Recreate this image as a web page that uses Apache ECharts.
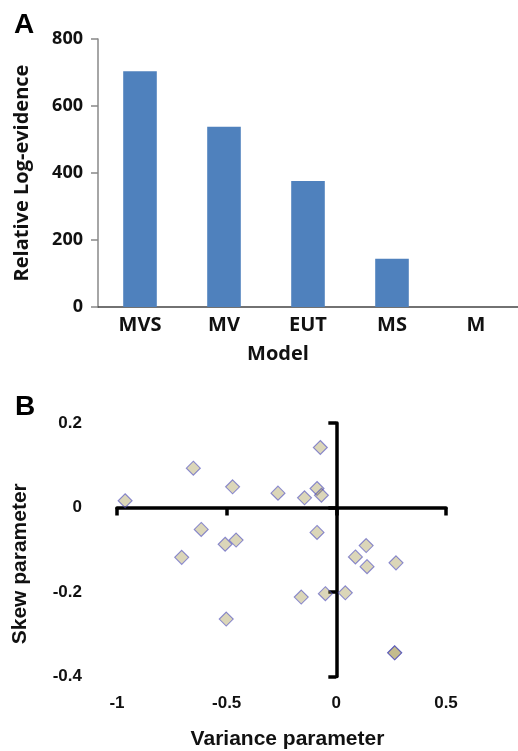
<!DOCTYPE html>
<html lang="en">
<head>
    <meta charset="UTF-8">
    <title>Model evidence and parameters</title>
    <style>
        html, body { margin: 0; padding: 0; background: #fff; }
    </style>
</head>
<body>
<div id="main" style="width:518px;height:751px;"></div>

<script src="https://cdn.jsdelivr.net/npm/echarts@6/dist/echarts.min.js"></script>
<script>
    // panel A
    var models = ['MVS', 'MV', 'EUT', 'MS', 'M'];
    var logEvidence = [704, 538, 376, 144, 0];
    var evidenceTicks = [0, 200, 400, 600, 800];

    // panel B (one point is repeated, it shows darker in the figure)
    var varianceParam = [-0.963, -0.652, -0.473, -0.266, -0.145, -0.088, -0.068, -0.073,
        -0.616, -0.507, -0.457, -0.705, -0.088, 0.087, 0.136, 0.140, 0.272,
        -0.160, -0.050, 0.041, -0.502, 0.266, 0.266];
    var skewParam = [0.016, 0.093, 0.049, 0.034, 0.023, 0.045, 0.029, 0.142,
        -0.052, -0.087, -0.077, -0.118, -0.059, -0.117, -0.090, -0.140, -0.131,
        -0.212, -0.204, -0.202, -0.264, -0.344, -0.344];
    var varianceTicks = [-1, -0.5, 0, 0.5];
    var skewTicks = [-0.4, -0.2, 0, 0.2];

    var points = varianceParam.map(function (v, i) {
        return [v, skewParam[i]];
    });

    var fontA = '"Open Sans", sans-serif';
    var fontB = '"Liberation Sans", Arial, sans-serif';

    var myChart = echarts.init(document.getElementById('main'));
    myChart.setOption({
        animation: false,
        backgroundColor: '#fff',
        title: [
            {text: 'A', left: 9, top: 6, textStyle: {fontFamily: fontB, fontWeight: 'bold', fontSize: 28, color: '#000'}},
            {text: 'B', left: 10, top: 388, textStyle: {fontFamily: fontB, fontWeight: 'bold', fontSize: 28, color: '#000'}}
        ],
        grid: [
            {left: 98, top: 39, width: 425, height: 268},
            {left: 117, top: 423, width: 329, height: 253.5}
        ],
        xAxis: [
            {
                gridIndex: 0,
                type: 'category',
                data: models,
                name: 'Model',
                nameLocation: 'middle',
                nameGap: 37,
                nameTextStyle: {fontFamily: fontA, fontWeight: 'bold', fontSize: 20, color: '#111', padding: [0, 60, 0, 0]},
                axisLine: {lineStyle: {color: '#444', width: 1.5}},
                axisTick: {show: false},
                axisLabel: {margin: 8, fontFamily: fontA, fontWeight: 'bold', fontSize: 20, color: '#111'}
            },
            {
                // labels along the bottom of panel B
                gridIndex: 1,
                type: 'value',
                position: 'bottom',
                min: varianceTicks[0],
                max: varianceTicks[varianceTicks.length - 1],
                interval: 0.5,
                name: 'Variance parameter',
                nameLocation: 'middle',
                nameGap: 52,
                nameTextStyle: {fontFamily: fontB, fontWeight: 'bold', fontSize: 21, color: '#111', padding: [0, 0, 0, 12]},
                axisLine: {show: false, onZero: false},
                axisTick: {show: false},
                splitLine: {show: false},
                axisLabel: {margin: 18, fontFamily: fontB, fontWeight: 'bold', fontSize: 17, color: '#111'}
            },
            {
                // the crossing line at skew = 0
                gridIndex: 1,
                type: 'value',
                position: 'top',
                min: varianceTicks[0],
                max: varianceTicks[varianceTicks.length - 1],
                interval: 0.5,
                axisLine: {onZero: true, lineStyle: {color: '#000', width: 3.5}},
                axisTick: {inside: true, length: 8, lineStyle: {color: '#000', width: 3.5}},
                axisLabel: {show: false},
                splitLine: {show: false}
            }
        ],
        yAxis: [
            {
                gridIndex: 0,
                type: 'value',
                min: evidenceTicks[0],
                max: evidenceTicks[evidenceTicks.length - 1],
                interval: 200,
                name: 'Relative Log-evidence',
                nameLocation: 'middle',
                nameGap: 66,
                nameTextStyle: {fontFamily: fontA, fontWeight: 'bold', fontSize: 20, color: '#111'},
                axisLine: {show: true, lineStyle: {color: '#888', width: 1.5}},
                axisTick: {show: true, length: 7, lineStyle: {color: '#888', width: 1.5}},
                splitLine: {show: false},
                axisLabel: {margin: 15, fontFamily: fontA, fontWeight: 'bold', fontSize: 18, color: '#111'}
            },
            {
                // labels along the left of panel B
                gridIndex: 1,
                type: 'value',
                position: 'left',
                min: skewTicks[0],
                max: skewTicks[skewTicks.length - 1],
                interval: 0.2,
                name: 'Skew parameter',
                nameLocation: 'middle',
                nameGap: 86,
                nameTextStyle: {fontFamily: fontB, fontWeight: 'bold', fontSize: 21, color: '#111', padding: [0, 28, 0, 0]},
                axisLine: {show: false, onZero: false},
                axisTick: {show: false},
                splitLine: {show: false},
                axisLabel: {margin: 35, fontFamily: fontB, fontWeight: 'bold', fontSize: 17, color: '#111'}
            },
            {
                // the crossing line at variance = 0
                gridIndex: 1,
                type: 'value',
                position: 'right',
                min: skewTicks[0],
                max: skewTicks[skewTicks.length - 1],
                interval: 0.2,
                axisLine: {onZero: true, lineStyle: {color: '#000', width: 3.5}},
                axisTick: {inside: true, length: 8, lineStyle: {color: '#000', width: 3.5}},
                axisLabel: {show: false},
                splitLine: {show: false}
            }
        ],
        series: [
            {
                name: 'Log-evidence',
                type: 'bar',
                xAxisIndex: 0,
                yAxisIndex: 0,
                barWidth: '40%',
                itemStyle: {color: '#4f81bd'},
                data: logEvidence
            },
            {
                name: 'Parameters',
                type: 'scatter',
                xAxisIndex: 1,
                yAxisIndex: 1,
                symbol: 'diamond',
                symbolSize: 14,
                itemStyle: {
                    color: 'rgba(160, 145, 70, 0.47)',
                    borderColor: 'rgba(70, 70, 190, 0.75)',
                    borderWidth: 1.1
                },
                z: 1,
                data: points
            }
        ]
    });
</script>
</body>
</html>
